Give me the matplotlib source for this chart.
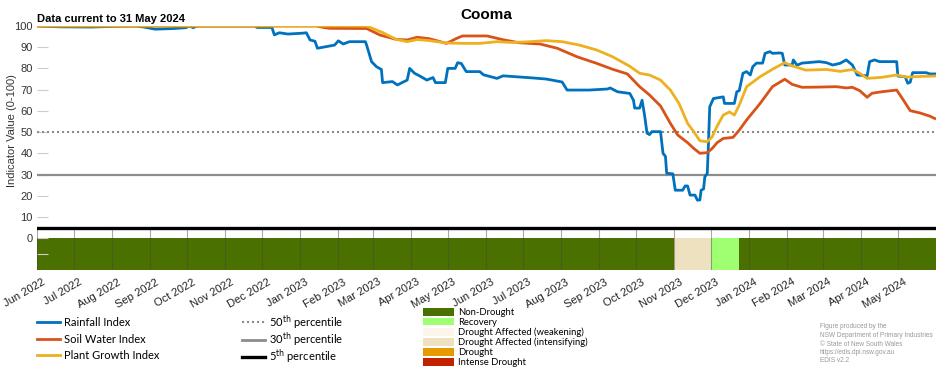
import pandas as pd
import matplotlib.pyplot as plt
import matplotlib.transforms as mtransforms
from matplotlib.lines import Line2D
from matplotlib.patches import Patch

plt.rcParams['font.family'] = ['Liberation Sans', 'DejaVu Sans']

# Rainfall index
rain_dates = ['2022-06-01', '2022-06-20', '2022-07-15', '2022-08-01', '2022-08-20', '2022-08-27',
              '2022-09-05', '2022-09-20', '2022-09-30', '2022-10-03', '2022-10-06', '2022-10-09',
              '2022-11-25', '2022-11-27', '2022-12-09', '2022-12-11', '2022-12-15', '2022-12-22',
              '2023-01-03', '2023-01-06', '2023-01-09', '2023-01-13', '2023-01-15', '2023-01-29',
              '2023-02-01', '2023-02-05', '2023-02-10', '2023-02-23', '2023-02-24', '2023-02-28',
              '2023-03-04', '2023-03-08', '2023-03-09', '2023-03-17', '2023-03-21', '2023-03-29',
              '2023-03-31', '2023-04-04', '2023-04-08', '2023-04-14', '2023-04-19', '2023-04-21',
              '2023-04-29', '2023-05-01', '2023-05-07', '2023-05-09', '2023-05-12', '2023-05-16',
              '2023-05-27', '2023-05-30', '2023-06-10', '2023-06-15', '2023-07-07', '2023-07-20',
              '2023-08-02', '2023-08-06', '2023-08-24', '2023-09-08', '2023-09-10', '2023-09-16',
              '2023-09-26', '2023-09-29', '2023-09-30', '2023-10-04', '2023-10-06', '2023-10-07',
              '2023-10-08', '2023-10-10', '2023-10-12', '2023-10-14', '2023-10-21', '2023-10-23',
              '2023-10-25', '2023-10-26', '2023-10-31', '2023-11-02', '2023-11-08', '2023-11-10',
              '2023-11-12', '2023-11-14', '2023-11-18', '2023-11-20', '2023-11-22', '2023-11-23',
              '2023-11-25', '2023-11-26', '2023-11-28', '2023-11-29', '2023-11-30', '2023-12-03',
              '2023-12-11', '2023-12-12', '2023-12-20', '2023-12-22', '2023-12-24', '2023-12-27',
              '2023-12-30', '2024-01-02', '2024-01-04', '2024-01-07', '2024-01-12', '2024-01-14',
              '2024-01-18', '2024-01-20', '2024-01-26', '2024-01-28', '2024-01-30', '2024-02-05',
              '2024-02-06', '2024-02-09', '2024-02-13', '2024-02-27', '2024-03-04', '2024-03-09',
              '2024-03-15', '2024-03-20', '2024-03-25', '2024-03-29', '2024-04-06', '2024-04-08',
              '2024-04-12', '2024-04-16', '2024-04-30', '2024-05-01', '2024-05-07', '2024-05-09',
              '2024-05-11', '2024-05-13', '2024-05-24', '2024-05-27', '2024-05-31']
rain_vals = [100, 99.6, 99.5, 99.8, 100, 99.5,
             98.5, 98.8, 99.2, 100, 99.2, 100,
             100, 99.3, 99.3, 95.8, 96.8, 96.2,
             96.6, 96.8, 93.4, 92.8, 89.5, 91.0,
             93.0, 91.5, 92.6, 92.6, 91.0, 83.2,
             80.8, 79.5, 73.3, 73.8, 72.2, 74.5,
             80.0, 77.7, 76.5, 74.5, 75.7, 73.3,
             73.3, 80.0, 80.0, 82.7, 82.3, 78.5,
             78.5, 77.0, 75.3, 76.5, 75.6, 75.0,
             73.6, 69.8, 69.8, 70.3, 70.8, 69.0,
             68.2, 65.0, 61.3, 61.3, 65.0, 61.5,
             58.0, 49.5, 48.8, 50.2, 50.2, 40.0,
             38.5, 30.6, 30.3, 22.6, 22.6, 24.6,
             24.6, 20.3, 20.3, 17.9, 18.0, 22.6,
             23.2, 28.9, 30.5, 45.0, 61.9, 65.8,
             66.6, 63.5, 63.5, 69.0, 69.5, 77.7,
             78.5, 76.9, 80.8, 82.5, 82.5, 87.1,
             87.9, 87.1, 87.3, 87.1, 81.6, 81.6,
             84.0, 81.5, 82.5, 83.2, 82.7, 81.6,
             82.4, 84.0, 81.6, 76.9, 76.5, 83.2,
             84.0, 83.2, 83.2, 76.4, 76.0, 73.0,
             73.5, 78.0, 78.0, 77.4, 77.4]

# Soil water index
soil_dates = ['2022-06-01', '2023-01-14', '2023-01-21', '2023-01-25', '2023-02-24', '2023-03-07',
              '2023-03-20', '2023-03-29', '2023-04-06', '2023-04-16', '2023-04-30', '2023-05-08',
              '2023-05-13', '2023-06-02', '2023-06-15', '2023-06-28', '2023-07-15', '2023-07-29',
              '2023-08-14', '2023-08-30', '2023-09-12', '2023-09-24', '2023-10-04', '2023-10-12',
              '2023-10-21', '2023-10-29', '2023-11-04', '2023-11-12', '2023-11-17', '2023-11-22',
              '2023-11-28', '2023-12-02', '2023-12-06', '2023-12-11', '2023-12-19', '2023-12-24',
              '2023-12-30', '2024-01-10', '2024-01-20', '2024-01-30', '2024-02-05', '2024-02-13',
              '2024-02-27', '2024-03-12', '2024-03-20', '2024-03-25', '2024-03-31', '2024-04-06',
              '2024-04-10', '2024-04-18', '2024-04-30', '2024-05-05', '2024-05-11', '2024-05-19',
              '2024-05-27', '2024-05-31']
soil_vals = [100, 100, 99.2, 98.9, 98.8, 95.7,
             93.7, 93.4, 94.7, 94.0, 91.8, 94.1,
             95.3, 95.3, 93.5, 92.1, 91.5, 89.5,
             85.5, 82.4, 79.6, 77.4, 71.4, 67.5,
             62.3, 54.1, 48.6, 45.0, 42.3, 40.0,
             40.3, 42.3, 45.0, 47.0, 47.5, 50.9,
             55.7, 63.5, 71.4, 74.9, 72.5, 71.1,
             71.2, 71.4, 70.8, 71.1, 69.5, 66.4,
             68.3, 69.0, 69.8, 65.5, 60.1, 59.0,
             57.5, 56.4]

# Plant growth index
plant_dates = ['2022-06-01', '2023-02-24', '2023-03-09', '2023-03-20', '2023-03-29', '2023-04-06',
               '2023-04-16', '2023-04-30', '2023-05-13', '2023-05-27', '2023-06-10', '2023-06-23',
               '2023-07-07', '2023-07-20', '2023-08-02', '2023-08-16', '2023-08-30', '2023-09-12',
               '2023-09-26', '2023-10-04', '2023-10-12', '2023-10-21', '2023-10-29', '2023-11-05',
               '2023-11-12', '2023-11-17', '2023-11-22', '2023-11-28', '2023-12-02', '2023-12-06',
               '2023-12-11', '2023-12-16', '2023-12-20', '2023-12-24', '2023-12-30', '2024-01-10',
               '2024-01-20', '2024-01-30', '2024-02-05', '2024-02-16', '2024-03-04', '2024-03-15',
               '2024-03-25', '2024-03-31', '2024-04-06', '2024-04-18', '2024-04-30', '2024-05-08',
               '2024-05-19', '2024-05-31']
plant_vals = [100, 100, 96.9, 93.7, 92.6, 93.6,
              93.1, 92.0, 91.8, 91.8, 92.6, 92.2,
              92.6, 93.1, 92.6, 91.0, 88.7, 85.5,
              81.0, 77.7, 76.9, 74.5, 69.8, 63.5,
              54.1, 50.2, 45.9, 45.4, 47.8, 52.8,
              58.0, 59.5, 58.0, 62.7, 71.4, 76.1,
              79.6, 82.7, 81.2, 79.2, 79.5, 78.6,
              79.5, 77.7, 75.3, 75.8, 76.9, 75.9,
              76.2, 76.4]

# Drought category strip
strip_starts = ['2022-06-01', '2023-11-01', '2023-12-01', '2023-12-24']
strip_ends = ['2023-11-01', '2023-12-01', '2023-12-24', '2024-06-01']
strip_class = ['Non-Drought', 'Drought Affected (intensifying)', 'Recovery', 'Non-Drought']

class_names = ['Non-Drought', 'Recovery', 'Drought Affected (weakening)',
               'Drought Affected (intensifying)', 'Drought', 'Intense Drought']
class_colors = ['#4a7100', '#a0ff70', '#fcf5ea', '#eee1bf', '#e69a00', '#c22200']
colour_of = dict(zip(class_names, class_colors))

credit_lines = ['Figure produced by the', 'NSW Department of Primary Industries',
                '© State of New South Wales', 'https://edis.dpi.nsw.gov.au', 'EDIS v2.2']

months = pd.date_range('2022-06-01', '2024-05-01', freq='MS')

fig = plt.figure(figsize=(9.52, 3.70), dpi=100)
ax = fig.add_axes([0.0389, 0.2703, 0.9443, 0.6595])

for s, e, c in zip(strip_starts, strip_ends, strip_class):
    ax.fill_between(pd.to_datetime([s, e]), -15, 0, color=colour_of[c], lw=0, zorder=1)
ax.vlines(months, -15, 5, color='#444444', lw=0.8, alpha=0.45, zorder=2)

ax.axhline(50, color='#8c8c8c', lw=1.5, ls=(0, (1, 1.4)), zorder=3)
ax.axhline(30, color='#8c8c8c', lw=1.6, zorder=3)
ax.axhline(5, color='black', lw=2.4, zorder=3)

ax.plot(pd.to_datetime(rain_dates), rain_vals, color='#0072BD', lw=2, zorder=4)
ax.plot(pd.to_datetime(soil_dates), soil_vals, color='#D95319', lw=2, zorder=5)
ax.plot(pd.to_datetime(plant_dates), plant_vals, color='#EDB120', lw=2, zorder=6)

ax.set_xlim(pd.Timestamp('2022-06-01'), pd.Timestamp('2024-06-01'))
ax.set_ylim(-15, 100)
ax.set_xticks(months)
ax.set_xticklabels([])
# month labels, rotated and nudged to sit like the original
lab_tr = ax.get_xaxis_transform() + mtransforms.ScaledTranslation(5 / 100, -7 / 100,
                                                                  fig.dpi_scale_trans)
for m in months:
    ax.text(m, 0, m.strftime('%b %Y'), transform=lab_tr, rotation=30, ha='right', va='top',
            rotation_mode='anchor', fontsize=8, color='#222222')
ax.set_yticks([-7.5] + list(range(0, 101, 10)))
ax.set_yticklabels([''] + [str(v) for v in range(0, 101, 10)])
ax.tick_params(axis='x', length=0)
ax.tick_params(axis='y', direction='in', length=8, color='#cccccc', labelsize=8,
               labelcolor='#333333', pad=3)
for sp in ax.spines.values():
    sp.set_visible(False)
ax.set_ylabel('Indicator Value (0-100)', fontsize=8, color='#333333')
ax.yaxis.set_label_coords(-0.022, 0.57)

fig.text(0.511, 1 - 15 / 370, 'Cooma', ha='center', va='center', fontsize=11, fontweight='bold')
fig.text(37 / 952, 1 - 19 / 370, 'Data current to 31 May 2024', ha='left', va='center',
         fontsize=8, fontweight='bold')

leg_font = {'family': ['Lato', 'DejaVu Sans'], 'size': 8}
h1 = [Line2D([], [], color='#0072BD', lw=2), Line2D([], [], color='#D95319', lw=2),
      Line2D([], [], color='#EDB120', lw=2)]
fig.legend(h1, ['Rainfall Index', 'Soil Water Index', 'Plant Growth Index'],
           loc='upper left', bbox_to_anchor=(37 / 952, 1 - 317 / 370), frameon=False,
           prop=leg_font, handlelength=2.1, handletextpad=0.3, labelspacing=0.5,
           borderpad=0, borderaxespad=0)
h2 = [Line2D([], [], color='#8c8c8c', lw=1.5, ls=(0, (1, 1.4))),
      Line2D([], [], color='#8c8c8c', lw=2), Line2D([], [], color='black', lw=2.4)]
fig.legend(h2, ['50$^{\\mathrm{th}}$ percentile', '30$^{\\mathrm{th}}$ percentile',
                '5$^{\\mathrm{th}}$ percentile'],
           loc='upper left', bbox_to_anchor=(242 / 952, 1 - 313 / 370), frameon=False,
           prop=leg_font, handlelength=2.1, handletextpad=0.3, labelspacing=-0.12,
           borderpad=0, borderaxespad=0)
h3 = [Patch(facecolor=c, edgecolor='none') for c in class_colors]
fig.legend(h3, class_names, loc='upper left', bbox_to_anchor=(423 / 952, 1 - 308 / 370),
           frameon=False, prop={'family': ['Lato', 'DejaVu Sans'], 'size': 6.8},
           handlelength=3.3, handleheight=0.85, handletextpad=0.4, labelspacing=0.08,
           borderpad=0, borderaxespad=0)

for i, line in enumerate(credit_lines):
    fig.text(820 / 952, 1 - (327 + 8.5 * i) / 370, line, ha='left', va='center',
             fontsize=4.7, color='#999999')

fig.savefig('out.png', dpi=100)
